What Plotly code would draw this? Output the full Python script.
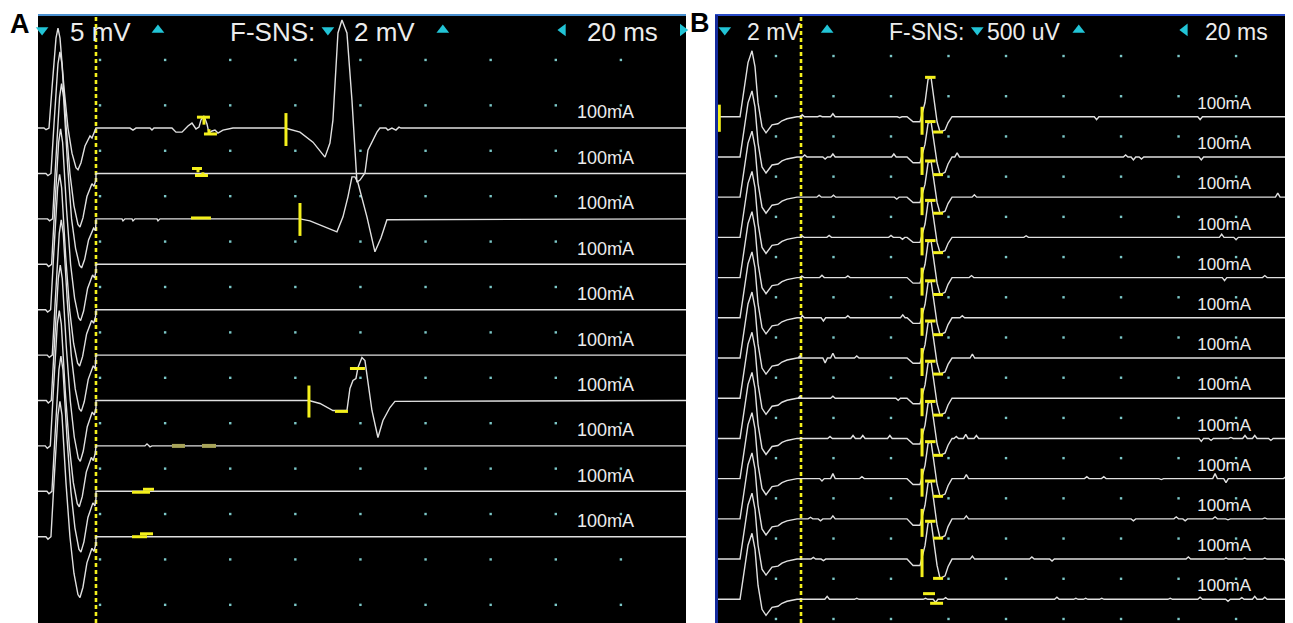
import plotly.graph_objects as go

# page body adds an 8px margin, so the figure is 8px smaller and everything is shifted by 8px
OFF = 8
W, H = 1293 - OFF, 623 - OFF
FONT = "Liberation Sans, Arial, sans-serif"

# ---------------- shared ----------------
GRID_T = [20, 40, 60, 80, 100, 120, 140, 160, 180]          # ms, dotted grid columns
LABEL_TEXT = "100mA"

# ---------------- Panel A ----------------
A_N = 10
A_SCALE_M = 5.0      # mV / div (left of cursor)
A_SCALE_F = 2.0      # mV / div (F-SNS)
A_BASE_TOP = 10.9    # div, baseline of first trace
A_X_RANGE = [0.95, 200.0]
A_Y_RANGE = [0, 13.39]
A_CURSOR_T = 18.76
A_GRID_Y = [0.4 + k for k in range(13)]

A_M_T = [0.95, 2.79, 3.41, 4.33, 5.25, 6.48, 7.09, 7.71, 8.94, 10.16, 11.39, 12.62,
         13.24, 14.16, 15.38, 16.31, 16.92, 17.54, 18.15, 18.76]
A_M_SHAPE = [0, 0, -0.04, 0, 0.40, 0.90, 1.0, 0.90, 0.40, 0, -0.60, -0.95,
             -1.0, -0.83, -0.43, -0.29, -0.19, -0.24, -0.12, 0]
A_M_PEAK = [11.0, 13.4, 14.9, 14.9, 14.9, 14.9, 14.9, 14.9, 14.9, 14.9]     # mV
A_M_TROUGH = [4.6, 5.9, 5.4, 6.2, 6.2, 6.2, 6.7, 6.7, 6.7, 6.7]             # mV
A_M_LAT = [0.0, 0.6, 1.1, 0.8, 0.5, 1.0, 0.7, 0.4, 0.9, 0.6]               # ms latency offset

A_F1_T = [18.76, 29.2, 30.13, 31.05, 35.35, 35.96, 36.58, 42.1, 43.33, 45.18, 47.02, 48.25,
          49.48, 50.4, 51.01, 51.93, 52.86, 53.47, 54.39, 55.31, 56.23, 57.77, 60.84, 76.81,
          81.42, 85.41, 89.1, 90.63, 91.55, 93.09, 94.32, 95.85, 97.39, 98.92, 99.85, 101.38,
          102.3, 105.06, 105.99, 107.83, 108.44, 109.67, 110.9, 111.82, 112.43, 200]
A_F1_V = [0, 0, -0.09, 0, 0, -0.09, 0, 0, -0.18, -0.18, 0.09, 0.22,
          -0.04, 0.04, 0.35, 0.53, 0.18, -0.22, -0.13, -0.09, -0.22, -0.09, 0, 0,
          -0.18, -0.62, -1.28, -0.66, 0.35, 4.19, 4.76, 4.19, 1.23, -2.38, -2.29, -1.98,
          -0.97, -0.18, 0, 0, -0.09, 0, -0.09, 0.04, 0, 0]
A_F3_T = [18.76, 26.75, 27.06, 27.67, 29.82, 30.13, 30.74, 37.5, 37.81, 38.42, 81.42, 84.49,
          89.1, 92.78, 94.63, 96.16, 97.39, 98.31, 99.23, 101.99, 104.45, 106.29, 108.14, 200]
A_F3_V = [0, 0, -0.09, 0, 0, -0.09, 0, 0, -0.09, 0, 0, -0.09,
          -0.35, -0.57, 0.09, 0.97, 1.85, 1.85, 1.59, 0.09, -1.45, -0.84, -0.04, 0]
A_F7_T = [18.76, 84.18, 87.56, 91.55, 95.85, 96.77, 97.7, 98.62, 99.23, 100.46, 101.38, 102.3,
          103.53, 105.37, 106.91, 109.06, 110.59, 200]
A_F7_V = [0, 0, -0.13, -0.44, -0.44, 0.53, 0.88, 0.97, 1.45, 1.89, 1.76, 0.75,
          -0.44, -1.63, -0.88, -0.31, -0.04, 0]
A_F8_T = [18.76, 33.81, 34.43, 35.35, 35.96, 200]
A_F8_V = [0, 0, 0.09, -0.04, 0, 0]
A_FLAT_T = [18.76, 200]
A_FLAT_V = [0, 0]

A_BAR_TRACE = [0, 0, 1, 1, 2, 6, 6, 8, 8, 9, 9]
A_BAR_T0 = [49.78, 51.93, 48.25, 49.17, 47.94, 92.17, 96.77, 29.82, 33.2, 29.82, 32.28]
A_BAR_T1 = [53.77, 55.92, 51.32, 53.16, 54.08, 96.16, 101.38, 35.35, 36.58, 34.43, 36.27]
A_BAR_V = [0.48, -0.26, 0.22, -0.09, 0.04, -0.48, 1.41, -0.04, 0.09, 0.0, 0.13]
A_DIM_BAR_TRACE = [7, 7]
A_DIM_BAR_T0 = [42.1, 51.32]
A_DIM_BAR_T1 = [46.09, 55.62]
A_TICK_TRACE = [0, 2, 6, 0, 0, 1, 1]
A_TICK_T = [77.12, 81.42, 84.18, 51.93, 53.47, 50.1, 51.6]
A_TICK_V0 = [0.66, 0.70, 0.66, 0.48, -0.26, 0.22, -0.09]
A_TICK_V1 = [-0.79, -0.75, -0.75, 0.15, -0.05, 0.05, 0.05]

# ---------------- Panel B ----------------
B_N = 13
B_SCALE_M = 2.0
B_SCALE_F = 0.5
B_BASE_TOP = 12.59
B_X_RANGE = [-1.2, 199.8]
B_Y_RANGE = [0, 15.12]
B_CURSOR_T = 28.71
B_GRID_Y = [0.1 + k for k in range(15)]

B_M_T = [-1.2, 7.5, 8.54, 10.28, 11.67, 12.71, 13.76, 15.15, 16.54, 18.63, 20.71, 22.1,
         23.84, 25.58, 27.32, 28.71]
B_M_V = [0, 0, 1.0, 2.69, 3.28, 2.49, 0.70, -0.50, -0.80, -0.40, -0.35, -0.20,
         -0.10, -0.05, 0, 0]

B_F_T = [65.58, 67.67, 70.1, 71.84, 72.89, 73.93, 74.63, 76.02, 77.06, 78.8, 79.84, 81.23]
B_F_SHAPE = [0, -0.33, -0.33, 0.36, 0.95, 1.0, 0.62, -0.33, -1.0, -0.87, -0.4, 0]
B_F_PEAK = [0.49, 0.44, 0.45, 0.46, 0.46, 0.46, 0.46, 0.46, 0.46, 0.46, 0.47, 0.47, 0]
B_F_TROUGH = [0.19, 0.22, 0.20, 0.19, 0.21, 0.21, 0.20, 0.21, 0.21, 0.22, 0.24, 0.24, 0]

B_WIG_T = [
    [29.1, 35.3, 39.8, 63.0, 131.5, 167.5],
    [30.0, 37.1, 39.8, 61.0, 83.0, 141.6, 144.3, 147.1, 167.9],
    [35.0, 40.0, 62.0, 89.0, 194.5],
    [29.0, 38.5, 60.0, 64.0, 107.0, 175.0, 180.0],
    [29.0, 36.0, 45.0, 88.0, 176.0, 190.0],
    [29.1, 36.5, 45.0, 64.1, 84.8],
    [28.4, 37.1, 39.8, 48.1, 88.3],
    [28.4, 39.8, 62.5],
    [38.8, 46.8, 50.2, 59.6, 82.7, 86.0, 89.7, 167.9, 171.3, 178.2, 183.1, 186.5, 192.1],
    [36.0, 39.8, 49.9, 86.2, 128.1, 134.0, 154.0, 172.7, 176.5, 197.3],
    [32.0, 35.5, 39.8, 86.2, 144.3, 159.2, 162.3, 172.7, 177.2, 190.0],
    [33.0, 36.5, 88.3, 109.0, 116.0, 163.4, 176.5, 183.0, 190.0, 197.3],
    [37.8, 48.1, 72.0, 75.5, 79.0, 117.7, 124.3, 127.7, 133.3, 157.1, 167.5, 177.2, 182.0, 186.5, 190.0],
]
B_WIG_V = [
    [0.025, 0.012, 0.037, -0.012, -0.037, -0.037],
    [0.025, -0.025, 0.037, 0.037, 0.05, 0.025, -0.037, -0.025, -0.037],
    [0.025, 0.025, -0.025, 0.03, 0.05],
    [0.02, 0.025, 0.025, -0.025, 0.02, 0.04, -0.03],
    [0.02, 0.03, 0.02, 0.025, -0.037, 0.025],
    [0.03, -0.04, 0.025, 0.037, 0.025],
    [0.025, -0.06, 0.06, 0.025, 0.05],
    [0.025, 0.025, -0.025],
    [0.025, 0.037, 0.037, 0.037, 0.025, 0.05, 0.037, -0.037, -0.025, 0.012, 0.037, 0.037, -0.025],
    [-0.03, 0.062, 0.025, 0.05, 0.025, 0.025, -0.012, 0.062, -0.05, 0.025],
    [0.02, -0.025, 0.037, 0.037, -0.025, 0.025, -0.025, 0.025, -0.012, 0.012],
    [0.02, -0.02, 0.037, 0.025, -0.025, 0.025, 0.012, 0.012, 0.012, -0.025],
    [0.037, 0.012, 0.012, -0.04, 0.02, 0.025, 0.012, 0.012, 0.012, 0.012, 0.025, -0.025, 0.02, 0.037, 0.025],
]

B_TICK_T = 70.8
B_TICK_V = [0.124, -0.224]
B_PEAKBAR_T = [71.84, 75.5]
B_TROUGHBAR_T = [74.63, 78.1]
B_LAST_BAR_T0 = [71.15, 73.6]
B_LAST_BAR_T1 = [75.3, 78.1]
B_LAST_BAR_V = [0.07, -0.05]
B_LEFT_TICK_T = 0.3
B_LEFT_TICK_V = [0.6, -0.75]

# ---------------- colours ----------------
TRACE_C = "#e0e0e0"
YEL = "#f4f01c"
DIM_YEL = "#a8a45a"
DOT_C = "#7cc8c8"
CYAN = "#22c4d6"
TEXT_C = "#ececec"


def px(xr):
    """reference-window x pixel -> paper fraction"""
    return (xr - OFF) / W


def py(yr):
    """reference-window y pixel -> paper fraction (from bottom)"""
    return 1 - (yr - OFF) / H


fig = go.Figure()


def add_dots(xax, yax, ys):
    xs, yy = [], []
    for y in ys:
        for t in GRID_T:
            xs.append(t)
            yy.append(y)
    fig.add_trace(go.Scatter(x=xs, y=yy, mode="markers", xaxis=xax, yaxis=yax,
                             marker=dict(symbol="square", size=2.4, color=DOT_C, line=dict(width=0)),
                             hoverinfo="skip"))


def add_cursor(xax, yax, t, top):
    fig.add_trace(go.Scatter(x=[t, t], y=[0, top], mode="lines", xaxis=xax, yaxis=yax,
                             line=dict(color=YEL, width=2.6, dash="4px,3px"), hoverinfo="skip"))


# ---------- Panel A ----------
add_dots("x", "y", A_GRID_Y)
add_cursor("x", "y", A_CURSOR_T, A_Y_RANGE[1])

A_F = {0: (A_F1_T, A_F1_V), 2: (A_F3_T, A_F3_V), 6: (A_F7_T, A_F7_V), 7: (A_F8_T, A_F8_V)}
for k in range(A_N):
    base = A_BASE_TOP - k
    xs = [A_M_T[0]] + [min(t + A_M_LAT[k], A_CURSOR_T) for t in A_M_T[1:]]
    ys = [base + (s * A_M_PEAK[k] if s > 0 else s * A_M_TROUGH[k]) / A_SCALE_M for s in A_M_SHAPE]
    ft, fv = A_F.get(k, (A_FLAT_T, A_FLAT_V))
    xs += list(ft)
    ys += [base + v / A_SCALE_F for v in fv]
    fig.add_trace(go.Scatter(x=xs, y=ys, mode="lines", xaxis="x", yaxis="y",
                             line=dict(color=TRACE_C, width=1.4), hoverinfo="skip"))

bx, by = [], []
for tr, t0, t1, v in zip(A_BAR_TRACE, A_BAR_T0, A_BAR_T1, A_BAR_V):
    yv = A_BASE_TOP - tr + v / A_SCALE_F
    bx += [t0, t1, None]
    by += [yv, yv, None]
for tr, t, v0, v1 in zip(A_TICK_TRACE, A_TICK_T, A_TICK_V0, A_TICK_V1):
    bx += [t, t, None]
    by += [A_BASE_TOP - tr + v0 / A_SCALE_F, A_BASE_TOP - tr + v1 / A_SCALE_F, None]
fig.add_trace(go.Scatter(x=bx, y=by, mode="lines", xaxis="x", yaxis="y",
                         line=dict(color=YEL, width=3), hoverinfo="skip"))
dx, dy = [], []
for tr, t0, t1 in zip(A_DIM_BAR_TRACE, A_DIM_BAR_T0, A_DIM_BAR_T1):
    yv = A_BASE_TOP - tr
    dx += [t0, t1, None]
    dy += [yv, yv, None]
fig.add_trace(go.Scatter(x=dx, y=dy, mode="lines", xaxis="x", yaxis="y",
                         line=dict(color=DIM_YEL, width=4), hoverinfo="skip"))

fig.add_trace(go.Scatter(x=[166.5] * A_N, y=[A_BASE_TOP - k + 0.31 for k in range(A_N)],
                         text=[LABEL_TEXT] * A_N, mode="text", textposition="middle right",
                         textfont=dict(family=FONT, size=18, color=TEXT_C),
                         xaxis="x", yaxis="y", hoverinfo="skip", cliponaxis=False))

# ---------- Panel B ----------
add_dots("x2", "y2", B_GRID_Y)
add_cursor("x2", "y2", B_CURSOR_T, B_Y_RANGE[1])

for k in range(B_N):
    base = B_BASE_TOP - k
    xs = list(B_M_T)
    ys = [base + v / B_SCALE_M for v in B_M_V]
    pts = [(B_CURSOR_T + 0.01, 0.0), (B_X_RANGE[1], 0.0)]
    for t, v in zip(B_WIG_T[k], B_WIG_V[k]):
        pts += [(t - 0.8, 0.0), (t, v), (t + 0.8, 0.0)]
    if B_F_PEAK[k] > 0:
        for t, s in zip(B_F_T, B_F_SHAPE):
            pts.append((t, s * B_F_PEAK[k] if s > 0 else s * B_F_TROUGH[k]))
    pts.sort(key=lambda p: p[0])
    xs += [p[0] for p in pts]
    ys += [base + p[1] / B_SCALE_F for p in pts]
    fig.add_trace(go.Scatter(x=xs, y=ys, mode="lines", xaxis="x2", yaxis="y2",
                             line=dict(color=TRACE_C, width=1.4), hoverinfo="skip"))

bx, by = [], []
for k in range(B_N):
    base = B_BASE_TOP - k
    if B_F_PEAK[k] > 0:
        bx += [B_TICK_T, B_TICK_T, None]
        by += [base + B_TICK_V[0] / B_SCALE_F, base + B_TICK_V[1] / B_SCALE_F, None]
        pv = base + B_F_PEAK[k] / B_SCALE_F
        bx += [B_PEAKBAR_T[0], B_PEAKBAR_T[1], None]
        by += [pv, pv, None]
        tv = base - B_F_TROUGH[k] / B_SCALE_F
        bx += [B_TROUGHBAR_T[0], B_TROUGHBAR_T[1], None]
        by += [tv, tv, None]
    else:
        for t0, t1, v in zip(B_LAST_BAR_T0, B_LAST_BAR_T1, B_LAST_BAR_V):
            bx += [t0, t1, None]
            by += [base + v / B_SCALE_F, base + v / B_SCALE_F, None]
base0 = B_BASE_TOP
bx += [B_LEFT_TICK_T, B_LEFT_TICK_T, None]
by += [base0 + B_LEFT_TICK_V[0] / B_SCALE_M, base0 + B_LEFT_TICK_V[1] / B_SCALE_M, None]
fig.add_trace(go.Scatter(x=bx, y=by, mode="lines", xaxis="x2", yaxis="y2",
                         line=dict(color=YEL, width=3), hoverinfo="skip"))

fig.add_trace(go.Scatter(x=[166.5] * B_N, y=[B_BASE_TOP - k + 0.3 for k in range(B_N)],
                         text=[LABEL_TEXT] * B_N, mode="text", textposition="middle right",
                         textfont=dict(family=FONT, size=17, color=TEXT_C),
                         xaxis="x2", yaxis="y2", hoverinfo="skip", cliponaxis=False))

# ---------- headers ----------
HDR_TRI_T = [2.2, 37.8, 90.0, 125.3, 162.2, 199.0]
HDR_TRI_SYM = ["triangle-down", "triangle-up", "triangle-down", "triangle-up", "triangle-left", "triangle-right"]
A_HDR_TEXT = ["5 mV", "F-SNS:", "2 mV", "20 ms"]
A_HDR_T = [10.2, 59.3, 97.4, 168.9]
B_HDR_TEXT = ["2 mV", "F-SNS:", "500 uV", "20 ms"]
B_HDR_T = [9.2, 58.6, 92.7, 168.5]

for xax, yax, ytri, ytxt, texts, tpos, fsize in [
        ("x", "y", 13.06, 13.02, A_HDR_TEXT, A_HDR_T, 26),
        ("x2", "y2", 14.75, 14.70, B_HDR_TEXT, B_HDR_T, 23)]:
    fig.add_trace(go.Scatter(x=HDR_TRI_T, y=[ytri] * 6, mode="markers", xaxis=xax, yaxis=yax,
                             marker=dict(symbol=HDR_TRI_SYM, size=11, color=CYAN, line=dict(width=0)),
                             hoverinfo="skip", cliponaxis=False))
    for txt, t in zip(texts, tpos):
        fig.add_annotation(x=t, y=ytxt, xref=xax, yref=yax, text=txt, showarrow=False,
                           xanchor="left", yanchor="middle",
                           font=dict(family=FONT, size=fsize, color=TEXT_C))

# panel letters
fig.add_annotation(x=px(20), y=py(24), xref="paper", yref="paper", text="<b>A</b>",
                   xanchor="center", yanchor="middle",
                   showarrow=False, font=dict(family=FONT, size=27, color="black"))
fig.add_annotation(x=px(700), y=py(23), xref="paper", yref="paper", text="<b>B</b>",
                   xanchor="center", yanchor="middle",
                   showarrow=False, font=dict(family=FONT, size=27, color="black"))

# frame lines
fig.add_shape(type="line", xref="paper", yref="paper", x0=px(38), x1=px(686), y0=py(15), y1=py(15),
              line=dict(color="#4a90d0", width=2))
fig.add_shape(type="line", xref="paper", yref="paper", x0=px(715), x1=1, y0=py(15), y1=py(15),
              line=dict(color="#2a4cc8", width=2))
fig.add_shape(type="line", xref="paper", yref="paper", x0=px(716.5), x1=px(716.5), y0=0, y1=py(15),
              line=dict(color="#142a9c", width=3))

fig.update_layout(
    width=W, height=H, margin=dict(l=0, r=0, t=0, b=0),
    paper_bgcolor="white", plot_bgcolor="black", showlegend=False, hovermode=False,
    xaxis=dict(domain=[px(38), px(686)], range=A_X_RANGE, visible=False, fixedrange=True),
    yaxis=dict(domain=[0, py(15)], range=A_Y_RANGE, visible=False, fixedrange=True),
    xaxis2=dict(domain=[px(715), 1.0], range=B_X_RANGE, visible=False, anchor="y2", fixedrange=True),
    yaxis2=dict(domain=[0, py(15)], range=B_Y_RANGE, visible=False, anchor="x2", fixedrange=True),
)

fig.write_html("out.html")
